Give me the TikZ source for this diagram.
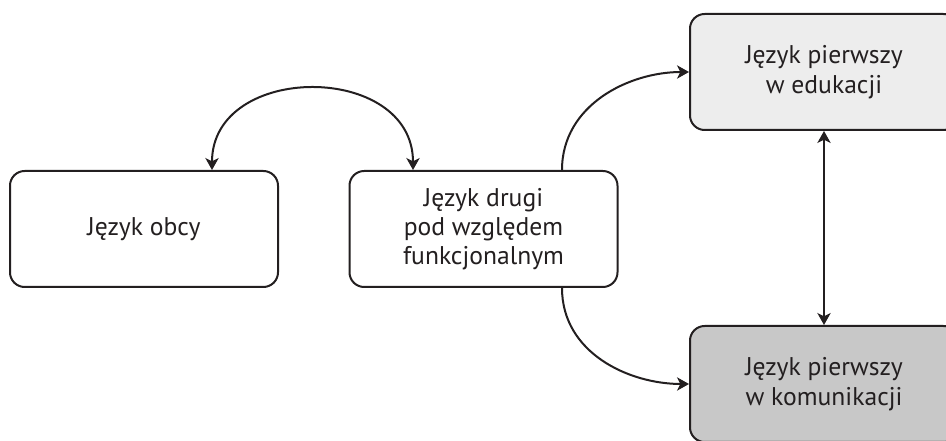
\documentclass[tikz,border=0pt]{standalone}
\usepackage{fontspec}
\setmainfont{PT Sans}
\usetikzlibrary{arrows.meta,calc}
\definecolor{ink}{HTML}{231F20}
\definecolor{lightfill}{HTML}{EDEDED}
\definecolor{darkfill}{HTML}{C8C8C8}
\begin{document}
\begin{tikzpicture}[x=0.75pt,y=-0.75pt,
  box/.style={draw=ink,line width=1.5pt,rounded corners=11pt,minimum width=201pt,minimum height=87pt,
    align=center,text=ink,font=\fontsize{19.2}{22}\selectfont,inner sep=0pt},
  conn/.style={draw=ink,line width=1.5pt},
  tip/.tip={Stealth[length=9pt,width=10pt,inset=2.5pt]}]
\clip (0,0) rectangle (946,441);
\node[box,fill=white] (A) at (144,229) {Język obcy};
\node[box,fill=white] (B) at (483.5,229) {Język drugi\\pod względem\\funkcjonalnym};
\node[box,fill=lightfill] (C) at (824,72) {Język pierwszy\\w edukacji};
\node[box,fill=darkfill] (D) at (824,384) {Język pierwszy\\w komunikacji};
\coordinate (a1) at ($(A.north)+(68,0)$);
\coordinate (b1) at ($(B.north)+(-70.5,0)$);
\coordinate (b2) at ($(B.north)+(78.5,0)$);
\coordinate (b3) at ($(B.south)+(78.5,0)$);
\draw[conn,{tip}-{tip}] (a1) .. controls ($(a1)+(0,-108)$) and ($(b1)+(0,-108)$) .. (b1);
\draw[conn,-{tip}] (b2) .. controls ($(b2)+(0,-65)$) and ($(C.west)+(-60,0)$) .. (C.west);
\draw[conn,-{tip}] (b3) .. controls ($(b3)+(0,65)$) and ($(D.west)+(-60,0)$) .. (D.west);
\draw[conn,{tip}-{tip}] (C.south) -- (D.north);
\end{tikzpicture}
\end{document}
